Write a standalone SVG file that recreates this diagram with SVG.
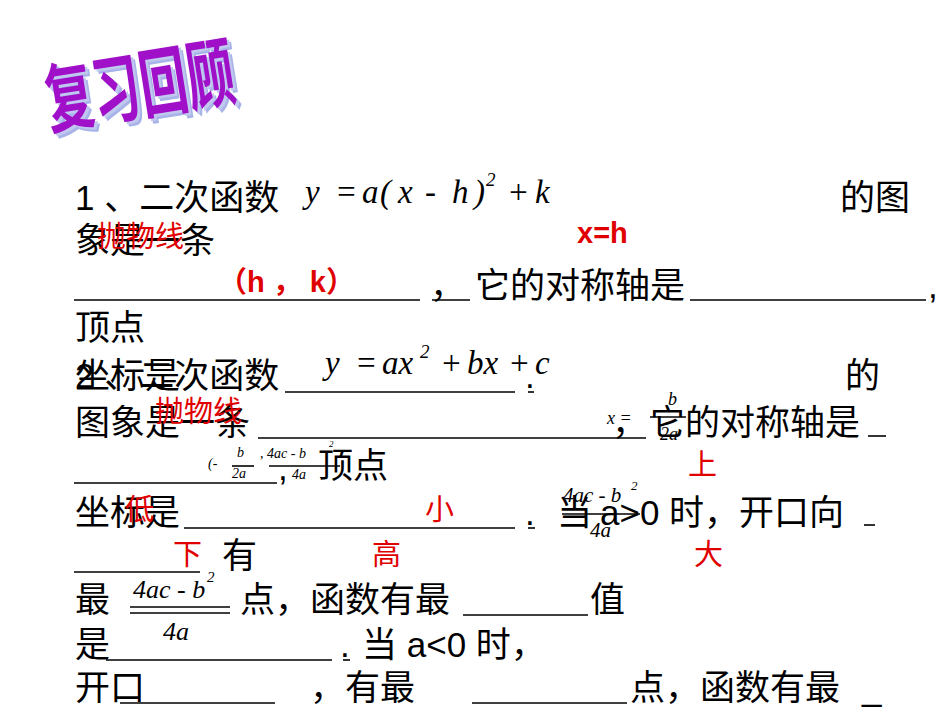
<svg xmlns="http://www.w3.org/2000/svg" width="950" height="713" viewBox="0 0 950 713">
<style>
.t{font-family:"Liberation Sans","Noto Sans CJK SC",sans-serif;font-size:35px;fill:#000}
.r{font-family:"Liberation Sans","Noto Sans CJK SC",sans-serif;font-size:29px;fill:#e00000}
.m{font-family:"Liberation Serif",serif;font-style:italic;fill:#000}
.u{stroke:#000;stroke-width:1.6}
.ti{font-family:"Noto Sans CJK SC",sans-serif;font-size:58px;font-weight:bold}
</style>
<rect width="950" height="713" fill="#fff"/>
<g id="title" transform="translate(50,128) rotate(-9) scale(0.82,1.3)">
<text class="ti" x="5" y="4" fill="#a8b4e8">复习回顾</text>
<text class="ti" x="3" y="2" fill="#c0c8f0">复习回顾</text>
<text class="ti" x="0" y="0" fill="#a010c8">复习回顾</text>
</g>
<g id="text">
<text class="t" x="75" y="210">1 、二次函数</text>
<text class="m" font-size="33" y="203"><tspan x="305">y</tspan><tspan x="335">=</tspan><tspan x="362">a</tspan><tspan x="380">(</tspan><tspan x="398">x</tspan><tspan x="425">-</tspan><tspan x="452">h</tspan><tspan x="474">)</tspan><tspan x="486" y="186" font-size="19">2</tspan><tspan x="507" y="203">+</tspan><tspan x="535">k</tspan></text>
<text class="t" x="840" y="210">的图</text>
<text class="t" x="75" y="253">象是一条</text>
<text class="t" x="430" y="298">，</text>
<text class="t" x="475" y="298">它的对称轴是</text>
<text class="t" x="928" y="298">,</text>
<text class="t" x="75" y="340">顶点</text>
<text class="t" x="75" y="388">2 、二次函数</text>
<text class="t" x="75" y="388">坐标是</text>
<text class="m" font-size="33" y="374"><tspan x="325">y</tspan><tspan x="355">=</tspan><tspan x="382">ax</tspan><tspan x="420" y="358" font-size="19">2</tspan><tspan x="440" y="374">+</tspan><tspan x="467">bx</tspan><tspan x="508">+</tspan><tspan x="535">c</tspan></text>
<text class="t" x="525" y="388">.</text>
<text class="t" x="845" y="388">的</text>
<text class="t" x="75" y="435">图象是一条</text>
<text class="t" x="612" y="435">，</text>
<text class="t" x="650" y="435">它的对称轴是</text>
<text class="m" x="607" y="424" font-size="18">x =</text>
<text class="m" x="668" y="405" font-size="18">b</text>
<text class="m" x="660" y="440" font-size="18">2a</text>
<text class="m" x="208" y="468" font-size="14">(-</text>
<text class="m" x="237" y="457" font-size="14">b</text>
<text class="m" x="232" y="478" font-size="14">2a</text>
<text class="m" x="260" y="458" font-size="14">, 4ac - b</text>
<text class="m" x="329" y="447" font-size="9">2</text>
<text class="m" x="292" y="479" font-size="14">4a</text>
<text class="t" x="278" y="480">,</text>
<text class="t" x="318" y="478">顶点</text>
<text class="t" x="75" y="525">坐标是</text>
<text class="t" x="525" y="525">.</text>
<text class="t" x="557" y="525">当</text>
<text class="t" x="600" y="525">a&gt;0 时，开口向</text>
<text class="m" x="563" y="502" font-size="21">4ac - b</text>
<text class="m" x="631" y="490" font-size="13">2</text>
<text class="m" x="590" y="537" font-size="21">4a</text>
<text class="t" x="222" y="568">有</text>
<text class="t" x="75" y="612">最</text>
<text class="m" x="133" y="598" font-size="26">4ac - b</text>
<text class="m" x="207" y="582" font-size="15">2</text>
<text class="m" x="163" y="640" font-size="26">4a</text>
<text class="t" x="240" y="612">点，函数有最</text>
<text class="t" x="590" y="612">值</text>
<text class="t" x="75" y="657">是</text>
<text class="t" x="340" y="657">.</text>
<text class="t" x="362" y="657">当 a&lt;0 时，</text>
<text class="t" x="75" y="700">开口</text>
<text class="t" x="310" y="700">，有最</text>
<text class="t" x="630" y="700">点，函数有最</text>
<text class="t" x="862" y="700">_</text>
</g>
<g id="answers">
<text class="r" x="97" y="247">抛物线</text>
<text class="r" x="577" y="243" font-weight="bold" font-size="25">x=h</text>
<text class="r" x="218" y="292" font-weight="bold" font-size="27">（h ， k）</text>
<text class="r" x="155" y="422" font-size="26">抛物线</text>
<text class="r" x="688" y="475">上</text>
<text class="r" x="125" y="520">低</text>
<text class="r" x="425" y="520">小</text>
<text class="r" x="173" y="565">下</text>
<text class="r" x="372" y="565">高</text>
<text class="r" x="694" y="565">大</text>
</g>
<g id="connectors">
<line class="u" x1="74" y1="300" x2="420" y2="300"/>
<line class="u" x1="432" y1="300" x2="470" y2="300"/>
<line class="u" x1="690" y1="300" x2="926" y2="300"/>
<line class="u" x1="285" y1="392" x2="515" y2="392"/>
<line class="u" x1="528" y1="392" x2="534" y2="392"/>
<line class="u" x1="258" y1="438" x2="646" y2="438"/>
<line class="u" x1="868" y1="436" x2="886" y2="436"/>
<line class="u" x1="74" y1="483" x2="277" y2="483"/>
<line class="u" x1="184" y1="528" x2="515" y2="528"/>
<line class="u" x1="528" y1="528" x2="535" y2="528"/>
<line class="u" x1="864" y1="525" x2="875" y2="525"/>
<line class="u" x1="74" y1="572" x2="200" y2="572"/>
<line class="u" x1="130" y1="613" x2="230" y2="613"/>
<line class="u" x1="463" y1="615" x2="588" y2="615"/>
<line class="u" x1="106" y1="660" x2="332" y2="660"/>
<line class="u" x1="343" y1="660" x2="350" y2="660"/>
<line class="u" x1="130" y1="607" x2="230" y2="607"/>
<line class="u" x1="120" y1="703" x2="275" y2="703"/>
<line class="u" x1="472" y1="703" x2="627" y2="703"/>
<line class="u" x1="232" y1="466" x2="254" y2="466"/>
<line class="u" x1="269" y1="466" x2="340" y2="466"/>
<line class="u" x1="650" y1="417" x2="686" y2="417"/>
<line class="u" x1="562" y1="514" x2="640" y2="514"/>
</g>
</svg>
